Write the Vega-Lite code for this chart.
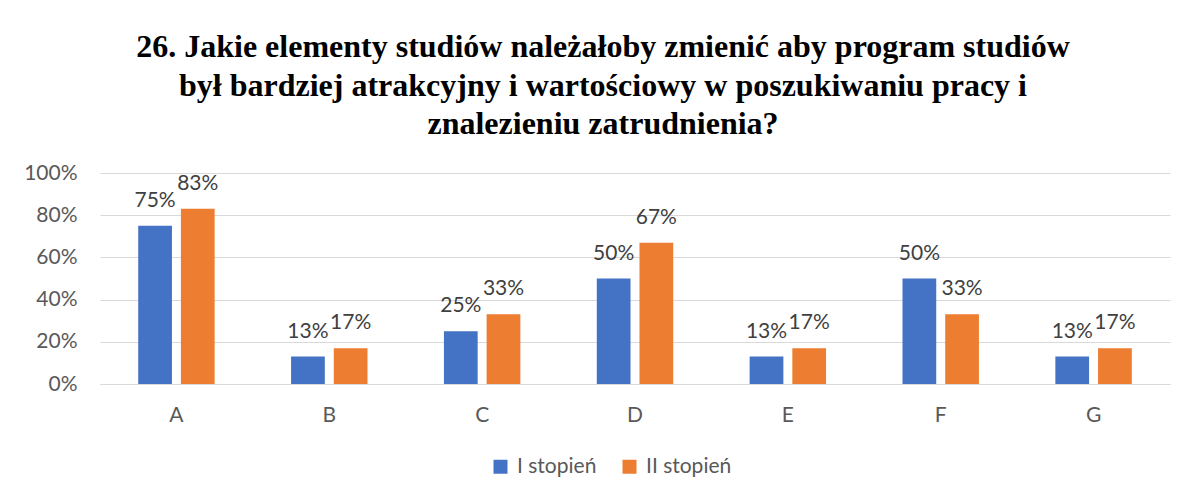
{
  "$schema": "https://vega.github.io/schema/vega-lite/v6.json",
  "width": 1070,
  "height": 211,
  "autosize": {"type": "none"},
  "padding": {"left": 100, "top": 173, "right": 22, "bottom": 117},
  "background": "white",
  "title": {
    "text": ["26. Jakie elementy studiów należałoby zmienić aby program studiów", "był bardziej atrakcyjny i wartościowy w poszukiwaniu pracy i", "znalezieniu zatrudnienia?"],
    "font": "Liberation Serif",
    "fontSize": 32,
    "fontWeight": "bold",
    "color": "#000000",
    "lineHeight": 38.5,
    "anchor": "middle",
    "frame": "group",
    "dx": -32,
    "offset": 21
  },
  "data": {
    "values": [
      {"kat": "A", "stopien": "I stopień", "wartosc": 0.75},
      {"kat": "A", "stopien": "II stopień", "wartosc": 0.83},
      {"kat": "B", "stopien": "I stopień", "wartosc": 0.13},
      {"kat": "B", "stopien": "II stopień", "wartosc": 0.17},
      {"kat": "C", "stopien": "I stopień", "wartosc": 0.25},
      {"kat": "C", "stopien": "II stopień", "wartosc": 0.33},
      {"kat": "D", "stopien": "I stopień", "wartosc": 0.5},
      {"kat": "D", "stopien": "II stopień", "wartosc": 0.67},
      {"kat": "E", "stopien": "I stopień", "wartosc": 0.13},
      {"kat": "E", "stopien": "II stopień", "wartosc": 0.17},
      {"kat": "F", "stopien": "I stopień", "wartosc": 0.5},
      {"kat": "F", "stopien": "II stopień", "wartosc": 0.33},
      {"kat": "G", "stopien": "I stopień", "wartosc": 0.13},
      {"kat": "G", "stopien": "II stopień", "wartosc": 0.17}
    ]
  },
  "encoding": {
    "x": {
      "field": "kat", "type": "nominal", "title": null,
      "scale": {"paddingInner": 0.5, "paddingOuter": 0.25},
      "axis": {"labelAngle": 0, "ticks": false, "domainColor": "#d9d9d9", "labelFont": "Lato", "labelFontSize": 21, "labelColor": "#595959", "labelPadding": 20}
    },
    "xOffset": {
      "field": "stopien", "type": "nominal", "sort": ["I stopień", "II stopień"],
      "scale": {"paddingInner": 0.21, "paddingOuter": 0}
    },
    "y": {
      "field": "wartosc", "type": "quantitative", "title": null,
      "scale": {"domain": [0, 1]},
      "axis": {"format": ".0%", "values": [0, 0.2, 0.4, 0.6, 0.8, 1], "domain": false, "ticks": false, "gridColor": "#d9d9d9", "gridWidth": 1, "labelFont": "Lato", "labelFontSize": 21, "labelColor": "#595959", "labelPadding": 23}
    }
  },
  "layer": [
    {
      "mark": {"type": "bar"},
      "encoding": {
        "color": {
          "field": "stopien", "type": "nominal", "title": null,
          "scale": {"domain": ["I stopień", "II stopień"], "range": ["#4472C4", "#ED7D31"]},
          "legend": {"orient": "none", "direction": "horizontal", "legendX": 390, "legendY": 283, "symbolType": "square", "symbolSize": 196, "symbolStrokeWidth": 0, "labelFont": "Lato", "labelFontSize": 21, "labelColor": "#595959", "columnPadding": 22, "labelOffset": 6, "padding": 0}
        }
      }
    },
    {
      "mark": {"type": "text", "baseline": "alphabetic", "dy": -19, "font": "Lato", "fontSize": 21, "color": "#404040"},
      "encoding": {"text": {"field": "wartosc", "type": "quantitative", "format": ".0%"}}
    }
  ],
  "config": {"view": {"stroke": null}}
}
